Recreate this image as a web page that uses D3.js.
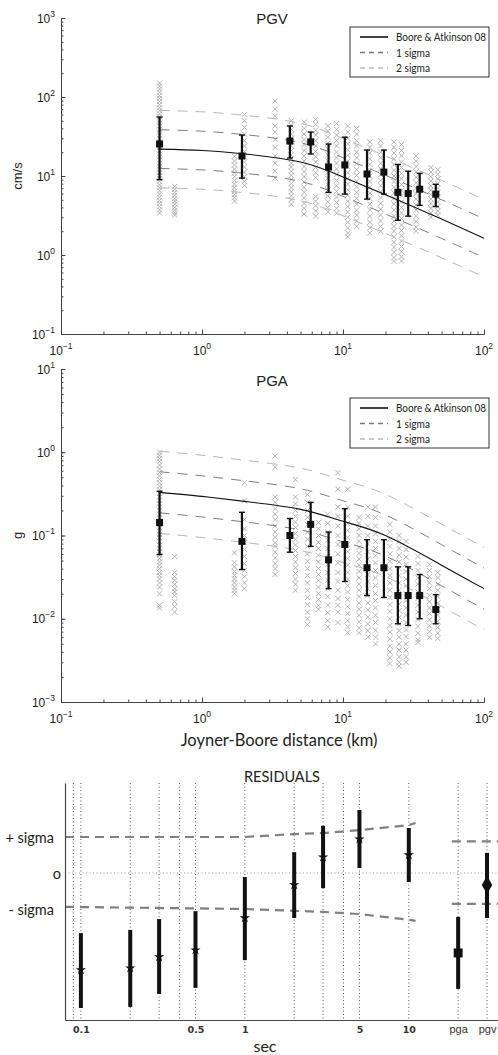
<!DOCTYPE html>
<html>
<head>
<meta charset="utf-8">
<script src="https://d3js.org/d3.v7.min.js"></script>
<style>
body { margin: 0; background: #fff; }
svg text { font-family: "Liberation Sans", Arial, sans-serif; fill: #222; }
</style>
</head>
<body>
<div id="chart"></div>
<script>

// ---- ground motion vs distance ----
var curveDist = [0.5, 1, 2, 5, 10, 20, 50, 100];
var pgvCurve = [21.9, 21, 19, 15, 9.7, 5.8, 2.85, 1.63];
var pgaCurve = [0.33, 0.295, 0.257, 0.206, 0.148, 0.1, 0.044, 0.023];
var pgvSigma = 0.245;   // log10 units
var pgaSigma = 0.247;

// binned means with error bars
var binDist = [0.5, 1.92, 4.2, 5.9, 7.9, 10.3, 14.8, 19.5, 24.5, 29, 35, 45.5];
var pgvMean = [25.4, 17.9, 27.7, 27, 13, 13.8, 10.6, 11.2, 6.2, 6.0, 6.8, 5.9];
var pgvLo = [9, 9.4, 16.9, 19, 6.2, 5.9, 5.1, 5.9, 2.75, 3.1, 4.25, 4.1];
var pgvHi = [55.8, 33, 43, 36, 25.4, 31, 21.3, 21.3, 14, 11.5, 10.8, 7.85];
var pgaMean = [0.143, 0.085, 0.1, 0.136, 0.051, 0.078, 0.041, 0.041, 0.019, 0.019, 0.019, 0.0129];
var pgaLo = [0.059, 0.039, 0.063, 0.074, 0.023, 0.028, 0.019, 0.018, 0.0087, 0.0083, 0.01, 0.0087];
var pgaHi = [0.34, 0.19, 0.16, 0.25, 0.11, 0.21, 0.089, 0.089, 0.042, 0.042, 0.034, 0.0195];

// recordings: [distance km, values]
var pgvObs = [
  [0.5, [150, 138, 126, 115, 104, 96, 88, 80, 73, 67, 61, 56, 51, 47, 43, 39, 36, 33, 30, 27, 25, 23, 21, 19, 17.5, 16, 14.5, 13.3, 12.2, 11.1, 10.1, 9.3, 8.5, 7.7, 7.1, 6.5, 5.9, 5.4, 4.9, 4.5, 4.1, 3.7, 3.4]],
  [0.64, [7.4, 6.8, 6.2, 5.7, 5.2, 4.8, 4.4, 4.0, 3.7, 3.4, 3.2]],
  [1.7, [17.8, 15.5, 13.8, 12.2, 10.9, 9.8, 8.8, 7.9, 7.1, 6.4, 5.8, 5.3, 4.8]],
  [2.0, [60, 50, 41, 34, 28, 24, 20.5, 17.5, 15, 13, 11.2, 9.8, 8.5, 7.6]],
  [3.3, [89, 70, 57, 43, 36, 29, 23, 18, 14.5, 11.5, 9.4]],
  [4.3, [50, 44, 39, 34, 30, 27, 24, 21, 18.5, 16.5, 14.5, 13, 11.5, 10.2, 9, 8, 7.1, 6.3, 5.6, 5.0, 4.4]],
  [5.3, [48, 40, 34, 29, 25, 21, 18, 15.5, 13.2, 11.4, 9.8, 8.4, 7.2, 6.2, 5.3, 4.5, 3.9, 3.3]],
  [6.4, [52, 45, 38, 33, 28, 24, 20.5, 17.5, 15, 12.8, 11, 9.5, 5.5, 4.8, 4.2, 3.6, 3.1]],
  [7.8, [43, 37, 31, 26, 22, 18.5, 15.5, 13, 11, 9.3, 7.8, 6.6, 5.6, 4.7, 4.0, 3.5]],
  [9.0, [46, 39, 33, 28, 24, 20, 17, 14.5, 12.3, 10.4, 8.8, 7.5, 6.4, 5.4, 4.6, 3.9, 3.4]],
  [10.8, [43, 36, 30, 25.5, 21.5, 18.2, 15.4, 13, 11, 9.3, 7.9, 6.7, 5.7, 4.8, 4.1, 3.5, 3.0, 2.6, 2.2, 1.9, 1.7]],
  [12.5, [40, 34, 28, 24, 20, 17, 14.3, 12, 10.2, 8.6, 7.3, 6.2, 5.2, 4.4, 3.7, 3.2, 2.7, 2.3]],
  [15.5, [27, 23, 19.5, 16.5, 14, 11.8, 10, 8.5, 7.2, 6.1, 5.2, 4.4, 3.7, 3.1, 2.6, 2.2, 1.9]],
  [18.5, [28, 24, 20, 17, 14.5, 12.3, 10.4, 8.8, 7.5, 6.3, 5.3, 4.5, 3.8, 3.2, 2.7, 2.3, 2.0]],
  [23, [27, 23, 19.5, 16.5, 14, 11.8, 10, 8.5, 7.2, 6.1, 5.2, 4.4, 3.7, 3.1, 2.7, 2.3, 2.0, 1.7, 1.45, 1.25, 1.08, 0.93, 0.83]],
  [26, [25, 21, 18, 15, 12.8, 10.8, 9.2, 7.8, 6.6, 5.6, 4.7, 4.0, 3.4, 2.9, 2.4, 2.05, 1.75, 1.5, 1.28, 1.1, 0.95, 0.84]],
  [33, [18, 15.5, 13.2, 11.3, 9.6, 8.2, 7.0, 6.0, 5.1, 4.3, 3.7, 3.1, 2.65, 2.25, 2.0]],
  [42, [12.8, 11.2, 9.8, 8.6, 7.5, 6.6, 5.8, 5.1, 4.5, 3.9, 3.4, 3.0]],
  [47, [12, 10.5, 9.2, 8.0, 7.0, 6.1, 5.4, 4.7, 4.1, 3.6, 3.2]]
];

var pgaObs = [
  [0.5, [1.0, 0.92, 0.84, 0.77, 0.7, 0.63, 0.57, 0.52, 0.47, 0.43, 0.39, 0.355, 0.32, 0.29, 0.265, 0.24, 0.22, 0.2, 0.18, 0.165, 0.15, 0.136, 0.124, 0.113, 0.103, 0.094, 0.085, 0.077, 0.07, 0.064, 0.058, 0.053, 0.048, 0.044, 0.04, 0.036, 0.033, 0.03, 0.027, 0.024, 0.02, 0.0145, 0.0135]],
  [0.64, [0.056, 0.036, 0.032, 0.029, 0.026, 0.023, 0.021, 0.019, 0.016, 0.014, 0.012]],
  [1.7, [0.062, 0.047, 0.042, 0.037, 0.033, 0.03, 0.027, 0.024, 0.022, 0.02]],
  [2.0, [0.43, 0.26, 0.155, 0.12, 0.1, 0.082, 0.068, 0.056, 0.046, 0.038, 0.032, 0.027, 0.023]],
  [3.3, [0.9, 0.66, 0.29, 0.25, 0.21, 0.18, 0.155, 0.13, 0.11, 0.095, 0.082, 0.074, 0.063, 0.054, 0.046, 0.04, 0.034]],
  [4.6, [0.47, 0.29, 0.24, 0.2, 0.17, 0.145, 0.125, 0.105, 0.09, 0.077, 0.066, 0.056, 0.048, 0.041, 0.035, 0.03, 0.026, 0.022]],
  [5.6, [0.31, 0.25, 0.2, 0.165, 0.135, 0.11, 0.09, 0.074, 0.06, 0.049, 0.04, 0.033, 0.027, 0.022, 0.018, 0.0148, 0.012, 0.01, 0.0085]],
  [6.7, [0.143, 0.12, 0.1, 0.083, 0.07, 0.058, 0.048, 0.04, 0.034, 0.029, 0.024, 0.02, 0.017, 0.0145, 0.013]],
  [7.8, [0.18, 0.14, 0.11, 0.088, 0.07, 0.056, 0.045, 0.036, 0.029, 0.023, 0.0185, 0.0146, 0.0118, 0.0095, 0.008]],
  [9.2, [0.57, 0.36, 0.22, 0.17, 0.13, 0.1, 0.078, 0.06, 0.047, 0.036, 0.028, 0.022, 0.0175, 0.0145, 0.012, 0.009]],
  [10.8, [0.36, 0.22, 0.17, 0.14, 0.115, 0.095, 0.078, 0.064, 0.053, 0.044, 0.036, 0.03, 0.025, 0.021, 0.017, 0.014, 0.0115, 0.0095, 0.008, 0.0068]],
  [13, [0.165, 0.14, 0.12, 0.1, 0.085, 0.072, 0.061, 0.052, 0.044, 0.037, 0.031, 0.026, 0.022, 0.0185, 0.0155, 0.013, 0.011, 0.0092, 0.0078, 0.0068]],
  [15, [0.22, 0.17, 0.13, 0.1, 0.08, 0.064, 0.052, 0.042, 0.034, 0.028, 0.023, 0.019, 0.0155, 0.0128, 0.0105, 0.0087, 0.0072, 0.006]],
  [17, [0.22, 0.165, 0.13, 0.105, 0.085, 0.07, 0.057, 0.047, 0.038, 0.031, 0.025, 0.02, 0.0165, 0.0135, 0.011, 0.009, 0.0073, 0.006, 0.005]],
  [21.5, [0.136, 0.11, 0.09, 0.074, 0.06, 0.049, 0.04, 0.033, 0.027, 0.022, 0.018, 0.0148, 0.0122, 0.01, 0.0083, 0.0069, 0.0057, 0.0047, 0.004, 0.0034, 0.0029]],
  [25, [0.1, 0.085, 0.07, 0.058, 0.048, 0.04, 0.033, 0.027, 0.022, 0.018, 0.015, 0.0125, 0.0104, 0.0087, 0.0072, 0.006, 0.005, 0.0042, 0.0035, 0.003, 0.0027]],
  [28, [0.085, 0.068, 0.055, 0.045, 0.037, 0.03, 0.025, 0.02, 0.0165, 0.0135, 0.011, 0.009, 0.0074, 0.0061, 0.005, 0.0042, 0.0035, 0.003]],
  [34, [0.056, 0.046, 0.038, 0.031, 0.026, 0.021, 0.0175, 0.0145, 0.012, 0.0098, 0.0081, 0.0067, 0.0056, 0.0052]],
  [41, [0.045, 0.038, 0.032, 0.027, 0.023, 0.019, 0.016, 0.0135, 0.0115, 0.0097, 0.0082, 0.007, 0.006]],
  [47, [0.036, 0.031, 0.026, 0.022, 0.0185, 0.0155, 0.013, 0.011, 0.0093, 0.0079, 0.0067, 0.0058]]
];

// ---- residuals (in sigma units) ----
var resPeriod = [0.1, 0.2, 0.3, 0.5, 1, 2, 3, 5, 10];
var resMean = [-2.69, -2.64, -2.33, -2.14, -1.25, -0.33, 0.44, 0.94, 0.5];
var resLo = [-3.75, -3.72, -3.36, -3.19, -2.42, -1.25, -0.42, 0.14, -0.25];
var resHi = [-1.67, -1.58, -1.28, -1.06, -0.11, 0.58, 1.31, 1.75, 1.25];
var sigPeriod = [0.08, 1, 2, 3, 5, 10, 11];
var sigUp = [1.0, 1.0, 1.08, 1.11, 1.19, 1.33, 1.39];
var sigDn = [-0.94, -1.0, -1.05, -1.08, -1.14, -1.3, -1.33];
// pga / pgv are placed at periods 20 and 30 on the same axis
var pgPeriod = [20, 30];
var pgMean = [-2.22, -0.33];
var pgLo = [-3.22, -1.25];
var pgHi = [-1.22, 0.56];
var pgSigPeriod = [18.3, 35];
var pgSigUp = 0.88;
var pgSigDn = -0.86;
var gridPeriod = [0.09, 0.1, 0.2, 0.3, 0.4, 0.5, 1, 2, 3, 4, 5, 10, 20, 30];
var resTickVals = [0.1, 0.5, 1, 5, 10, 20, 30];
var resTickText = ["0.1", "0.5", "1", "5", "10", "pga", "pgv"];

var legendText = ["Boore & Atkinson 08", "1 sigma", "2 sigma"];
var legendWidth = [90, 34, 34];

var svg = d3.select("#chart").append("svg")
    .attr("width", 498)
    .attr("height", 1055);

var axisColor = "#444";
var supers = {"-3": "\u22123", "-2": "\u22122", "-1": "\u22121", "0": "0", "1": "1", "2": "2", "3": "3"};

//draws the MATLAB style log-log axes (left and bottom only, ticks inside)
function logAxes(g, x, y) {
    var xr = x.range(), yr = y.range();
    var allX = x.ticks(), allY = y.ticks();
    var majX = allX.filter(function(d) { return Math.abs(Math.log10(d) - Math.round(Math.log10(d))) < 1e-6; });
    var majY = allY.filter(function(d) { return Math.abs(Math.log10(d) - Math.round(Math.log10(d))) < 1e-6; });

    var xa = g.append("g").attr("transform", "translate(0," + yr[0] + ")");
    xa.call(d3.axisBottom(x).tickValues(allX).tickSize(-2.5).tickSizeOuter(0).tickFormat(""));
    xa.append("g").call(d3.axisBottom(x).tickValues(majX).tickSize(-4.5).tickSizeOuter(0).tickFormat(""));
    var ya = g.append("g").attr("transform", "translate(" + xr[0] + ",0)");
    ya.call(d3.axisLeft(y).tickValues(allY).tickSize(-2.5).tickSizeOuter(0).tickFormat(""));
    ya.append("g").call(d3.axisLeft(y).tickValues(majY).tickSize(-4.5).tickSizeOuter(0).tickFormat(""));
    g.selectAll(".domain").attr("stroke", axisColor);
    g.selectAll(".tick line").attr("stroke", axisColor);

    majX.forEach(function(d) {
        var t = g.append("text").attr("x", x(d)).attr("y", yr[0] + 21)
            .attr("text-anchor", "middle").style("font-size", "12px");
        t.append("tspan").text("10");
        t.append("tspan").attr("dy", -6).style("font-size", "8.5px").text(supers[Math.round(Math.log10(d))]);
    });
    majY.forEach(function(d) {
        var t = g.append("text").attr("x", xr[0] - 6).attr("y", y(d) + 4.5)
            .attr("text-anchor", "end").style("font-size", "12px");
        t.append("tspan").text("10");
        t.append("tspan").attr("dy", -6).style("font-size", "8.5px").text(supers[Math.round(Math.log10(d))]);
    });
}

function distPanel(opt) {
    var g = svg.append("g");
    var x = d3.scaleLog().domain([0.1, 100]).range([61, 484]);
    var y = d3.scaleLog().domain(opt.ydom).range(opt.yrange);

    // recordings
    var pts = [];
    opt.obs.forEach(function(c) {
        c[1].forEach(function(v) { pts.push([c[0], v]); });
    });
    g.append("path")
        .attr("d", pts.map(function(p) {
            var cx = x(p[0]), cy = y(p[1]), s = 2.6;
            return "M" + (cx - s) + "," + (cy - s) + "L" + (cx + s) + "," + (cy + s) +
                   "M" + (cx - s) + "," + (cy + s) + "L" + (cx + s) + "," + (cy - s);
        }).join(""))
        .attr("stroke", "#aaaaaa")
        .attr("stroke-width", 0.9)
        .attr("fill", "none");

    // prediction and sigma bands
    var line = d3.line().x(function(d) { return x(d[0]); }).y(function(d) { return y(d[1]); }).curve(d3.curveNatural);
    [[2, "#b8b8b8"], [1, "#808080"], [-1, "#808080"], [-2, "#b8b8b8"]].forEach(function(b) {
        var f = Math.pow(10, b[0] * opt.sigma);
        g.append("path")
            .datum(curveDist.map(function(d, i) { return [d, opt.curve[i] * f]; }))
            .attr("d", line)
            .attr("fill", "none")
            .attr("stroke", b[1])
            .attr("stroke-width", 1)
            .attr("stroke-dasharray", "10,8");
    });
    g.append("path")
        .datum(curveDist.map(function(d, i) { return [d, opt.curve[i]]; }))
        .attr("d", line)
        .attr("fill", "none")
        .attr("stroke", "#111")
        .attr("stroke-width", 1.1);

    // binned means
    binDist.forEach(function(d, i) {
        var cx = x(d);
        g.append("line").attr("x1", cx).attr("x2", cx)
            .attr("y1", y(opt.lo[i])).attr("y2", y(opt.hi[i]))
            .attr("stroke", "#111").attr("stroke-width", 2.2);
        [opt.lo[i], opt.hi[i]].forEach(function(v) {
            g.append("line").attr("x1", cx - 3).attr("x2", cx + 3)
                .attr("y1", y(v)).attr("y2", y(v))
                .attr("stroke", "#111").attr("stroke-width", 1.4);
        });
        g.append("rect").attr("x", cx - 3.5).attr("y", y(opt.mean[i]) - 3.5)
            .attr("width", 7).attr("height", 7).attr("fill", "#111");
    });

    logAxes(g, x, y);

    // title and y label
    g.append("text").attr("x", 272).attr("y", opt.titleY)
        .attr("text-anchor", "middle").style("font-size", "15px").text(opt.title);
    g.append("text")
        .attr("transform", "translate(22," + ((opt.yrange[0] + opt.yrange[1]) / 2) + ") rotate(-90)")
        .attr("text-anchor", "middle").style("font-size", "13px").text(opt.ylabel);

    // legend
    var lg = g.append("g").attr("transform", "translate(350," + opt.legendY + ")");
    lg.append("rect").attr("width", 139).attr("height", 50)
        .attr("fill", "#fff").attr("stroke", "#333").attr("stroke-width", 1);
    var styles = [["#111", null], ["#777", "5,4"], ["#bbb", "5,4"]];
    legendText.forEach(function(t, i) {
        var ly = 10 + i * 15.5;
        lg.append("line").attr("x1", 10).attr("x2", 38).attr("y1", ly).attr("y2", ly)
            .attr("stroke", styles[i][0]).attr("stroke-width", i === 0 ? 1.6 : 1.3)
            .attr("stroke-dasharray", styles[i][1]);
        lg.append("text").attr("x", 46).attr("y", ly + 4)
            .attr("textLength", legendWidth[i]).attr("lengthAdjust", "spacingAndGlyphs")
            .style("font-family", "Lato, sans-serif").style("font-size", "11px").text(t);
    });
}

distPanel({
    obs: pgvObs, curve: pgvCurve, sigma: pgvSigma,
    mean: pgvMean, lo: pgvLo, hi: pgvHi,
    ydom: [0.1, 1000], yrange: [334, 18],
    title: "PGV", titleY: 23.5, ylabel: "cm/s", legendY: 27
});
distPanel({
    obs: pgaObs, curve: pgaCurve, sigma: pgaSigma,
    mean: pgaMean, lo: pgaLo, hi: pgaHi,
    ydom: [0.001, 10], yrange: [702, 369],
    title: "PGA", titleY: 386, ylabel: "g", legendY: 398
});

svg.append("text").attr("x", 279).attr("y", 746)
    .attr("text-anchor", "middle")
    .style("font-family", "Lato, sans-serif").style("font-size", "16.5px")
    .text("Joyner-Boore distance (km)");

// ---- residual panel ----
var rg = svg.append("g");
var xr = d3.scaleLog().domain([0.08, 35]).range([65, 498]);
var yr = d3.scaleLinear().domain([-4.083, 2.5]).range([1020, 783]);

rg.selectAll(".grid").data(gridPeriod).enter().append("line")
    .attr("x1", function(d) { return xr(d); }).attr("x2", function(d) { return xr(d); })
    .attr("y1", yr(2.5)).attr("y2", yr(-4.083))
    .attr("stroke", "#555").attr("stroke-width", 1).attr("stroke-dasharray", "1,2.5");
rg.append("line").attr("x1", 65).attr("x2", 498).attr("y1", yr(0)).attr("y2", yr(0))
    .attr("stroke", "#999").attr("stroke-width", 1).attr("stroke-dasharray", "1,2.5");

var rline = d3.line().x(function(d) { return xr(d[0]); }).y(function(d) { return yr(d[1]); });
[sigUp, sigDn].forEach(function(s) {
    rg.append("path").datum(sigPeriod.map(function(p, i) { return [p, s[i]]; }))
        .attr("d", rline).attr("fill", "none")
        .attr("stroke", "#808080").attr("stroke-width", 2.2).attr("stroke-dasharray", "9,6");
});
[pgSigUp, pgSigDn].forEach(function(s) {
    rg.append("path").datum(pgSigPeriod.map(function(p) { return [p, s]; }))
        .attr("d", rline).attr("fill", "none")
        .attr("stroke", "#808080").attr("stroke-width", 2.2).attr("stroke-dasharray", "9,6");
});

resPeriod.forEach(function(p, i) {
    rg.append("line").attr("x1", xr(p)).attr("x2", xr(p))
        .attr("y1", yr(resLo[i])).attr("y2", yr(resHi[i]))
        .attr("stroke", "#111").attr("stroke-width", 4);
    rg.append("path")
        .attr("transform", "translate(" + xr(p) + "," + yr(resMean[i]) + ")")
        .attr("d", d3.symbol(d3.symbolStar, 32)())
        .attr("fill", "#111");
});
pgPeriod.forEach(function(p, i) {
    rg.append("line").attr("x1", xr(p)).attr("x2", xr(p))
        .attr("y1", yr(pgLo[i])).attr("y2", yr(pgHi[i]))
        .attr("stroke", "#111").attr("stroke-width", 4);
    rg.append("path")
        .attr("transform", "translate(" + xr(p) + "," + yr(pgMean[i]) + ")")
        .attr("d", d3.symbol(i === 0 ? d3.symbolSquare : d3.symbolDiamond, i === 0 ? 80 : 95)())
        .attr("fill", "#111");
});

// axes
var rxa = rg.append("g").attr("transform", "translate(0,1020)")
    .call(d3.axisBottom(xr).tickValues(resTickVals).tickSize(0).tickSizeOuter(0)
        .tickFormat(function(d, i) { return resTickText[i]; }));
rxa.selectAll("text").attr("dy", null).attr("y", 13)
    .style("font-family", function(d, i) { return i < 5 ? "DejaVu Sans, sans-serif" : "Liberation Sans, sans-serif"; })
    .style("font-weight", function(d, i) { return i < 5 ? "bold" : "normal"; })
    .style("font-size", function(d, i) { return i < 5 ? "9.5px" : "11px"; })
    .style("fill", "#333");
var rya = rg.append("g").attr("transform", "translate(65,0)")
    .call(d3.axisLeft(yr).tickValues([1, 0, -1]).tickSize(0).tickSizeOuter(0)
        .tickFormat(function(d) { return d > 0 ? "+ sigma" : (d < 0 ? "- sigma" : "o"); }));
rya.selectAll("text")
    .attr("x", function(d) { return d === 0 ? -4 : -11; })
    .attr("dy", "0.35em")
    .style("font-family", "Lato, sans-serif").style("font-size", "14.5px").style("fill", "#222");
rg.selectAll(".domain").attr("stroke", axisColor).attr("stroke-width", 1.2);

rg.append("text").attr("x", 282).attr("y", 782).attr("text-anchor", "middle")
    .style("font-family", "Lato, sans-serif").style("font-size", "14.5px").text("RESIDUALS");
rg.append("text").attr("x", 265).attr("y", 1052).attr("text-anchor", "middle")
    .style("font-family", "Lato, sans-serif").style("font-size", "16px").text("sec");

</script>
</body>
</html>
